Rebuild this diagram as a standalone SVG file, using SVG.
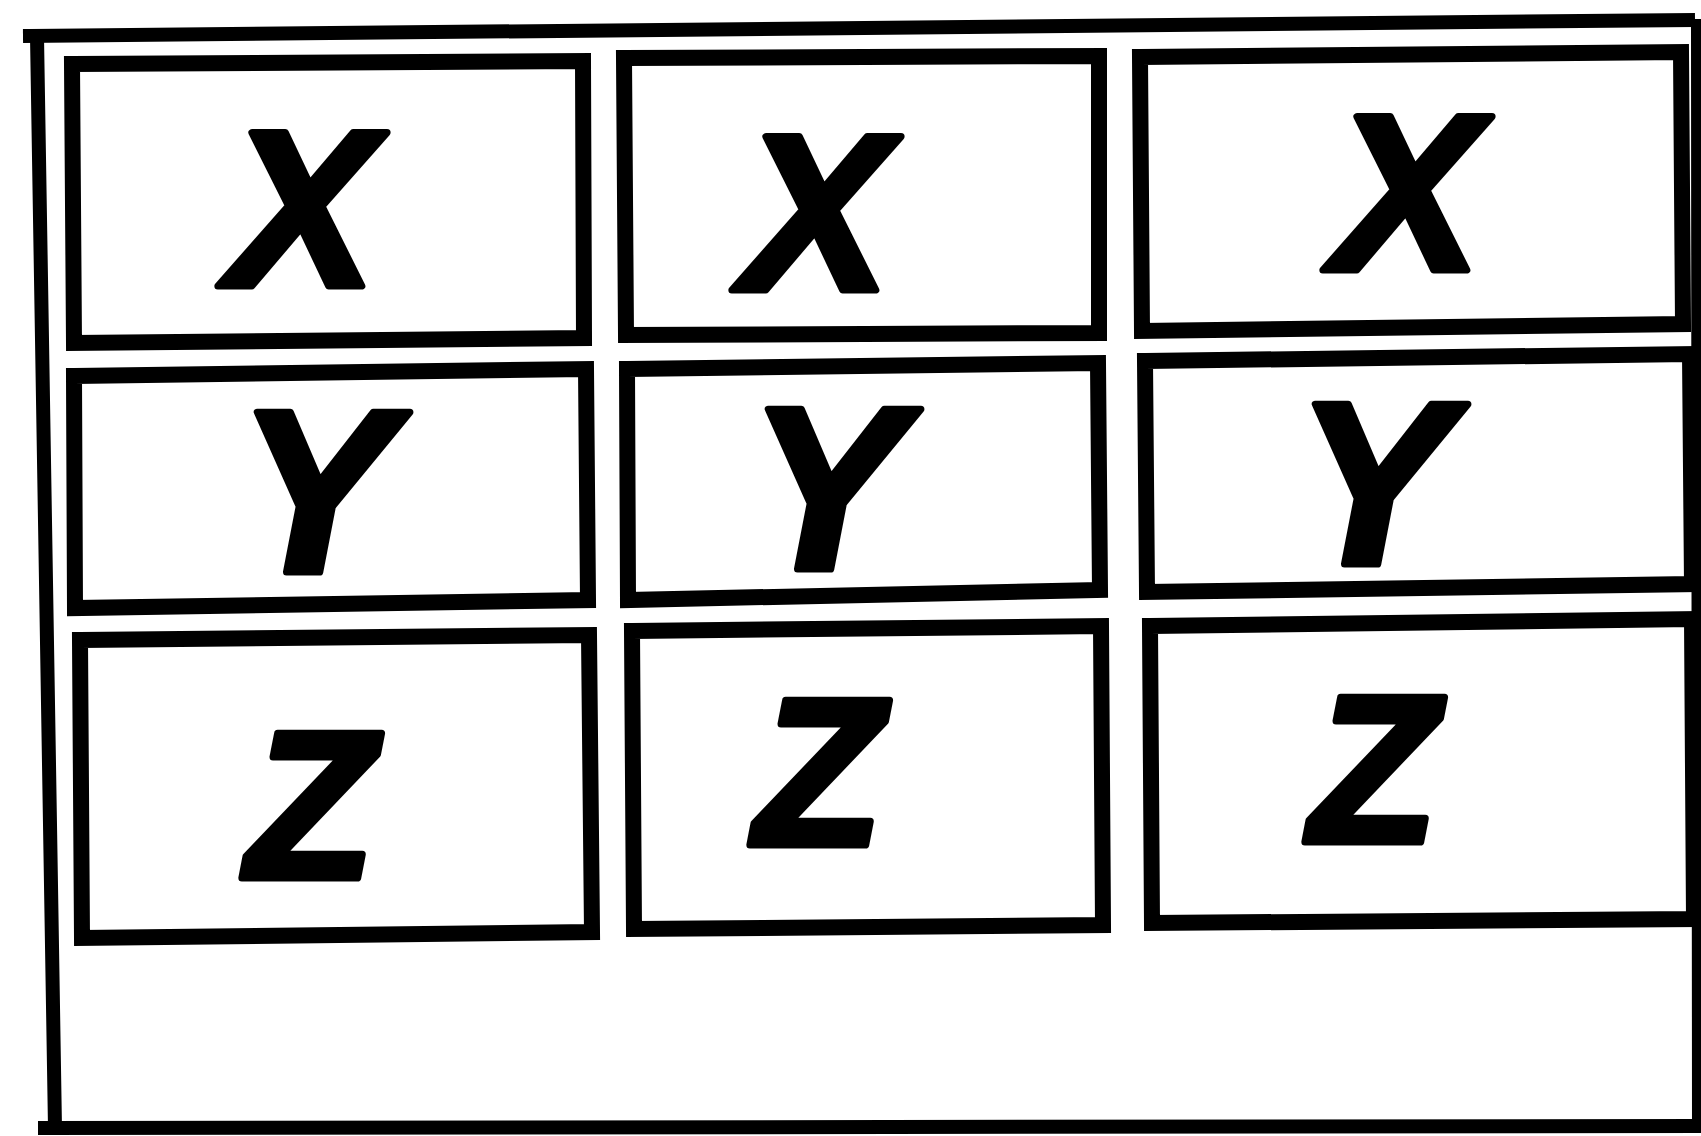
<svg xmlns="http://www.w3.org/2000/svg" width="1701" height="1136" viewBox="0 0 1701 1136">
<style>
.bg{fill:#ffffff}
.frame{fill:none;stroke:#000;stroke-width:14;stroke-linecap:square;stroke-linejoin:miter}
.box{fill:none;stroke:#000;stroke-width:16;stroke-linejoin:miter}
.lbl{font-family:"Liberation Sans",Arial,sans-serif;font-weight:bold;font-style:italic;fill:#000;stroke:#000;stroke-width:7;stroke-linejoin:round;text-anchor:middle}
.lx{font-size:222px}
.ly{font-size:232px}
.lz{font-size:210px}
</style>
<rect class="bg" x="0" y="0" width="1701" height="1136"/>
<g id="frame">
<path class="frame" d="M30 36 L1688 20"/>
<path class="frame" d="M37 36 L55 1128"/>
<path class="frame" d="M45 1128 L1701 1126"/>
<path class="frame" d="M1698 26 L1699 1126"/>
</g>
<g id="connectors"></g>
<g id="node-x1">
<path class="box" d="M72 64 L583 61 L584 338 L74 343 Z"/>
<text class="lbl lx" x="302" y="286">X</text>
</g>
<g id="node-x2">
<path class="box" d="M624 58 L1099 56 L1099 333 L626 335 Z"/>
<text class="lbl lx" x="816" y="290">X</text>
</g>
<g id="node-x3">
<path class="box" d="M1140 57 L1681 52 L1683 324 L1142 331 Z"/>
<text class="lbl lx" x="1407" y="270">X</text>
</g>
<g id="node-y1">
<path class="box" d="M74 376 L586 369 L588 600 L75 608 Z"/>
<text class="lbl ly" x="315" y="572">Y</text>
</g>
<g id="node-y2">
<path class="box" d="M627 369 L1098 363 L1100 590 L628 600 Z"/>
<text class="lbl ly" x="826" y="569">Y</text>
</g>
<g id="node-y3">
<path class="box" d="M1145 361 L1690 354 L1692 584 L1147 592 Z"/>
<text class="lbl ly" x="1373" y="564">Y</text>
</g>
<g id="node-z1">
<path class="box" d="M80 640 L589 635 L592 932 L82 938 Z"/>
<text class="lbl lz" x="311" y="878">Z</text>
</g>
<g id="node-z2">
<path class="box" d="M632 631 L1101 626 L1103 925 L634 929 Z"/>
<text class="lbl lz" x="819" y="845">Z</text>
</g>
<g id="node-z3">
<path class="box" d="M1150 626 L1692 619 L1694 919 L1152 923 Z"/>
<text class="lbl lz" x="1374" y="842">Z</text>
</g>
</svg>
